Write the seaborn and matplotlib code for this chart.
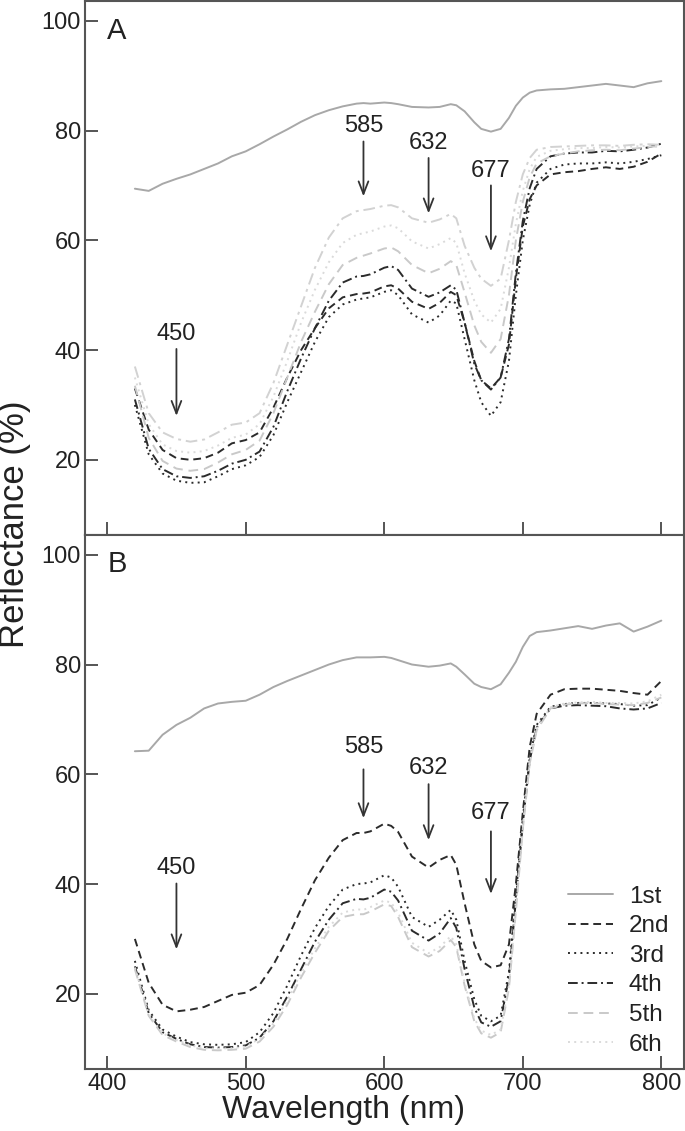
import numpy as np
import pandas as pd
import matplotlib
matplotlib.use("Agg")
import matplotlib.pyplot as plt
import seaborn as sns
from matplotlib.lines import Line2D

# ---------------- data ----------------
wavelength = [420, 430, 440, 450, 460, 470, 480, 490, 500, 510, 520, 530, 540, 550, 560,
              570, 580, 585, 590, 600, 605, 610, 620, 632, 640, 648, 652, 658, 665, 670,
              677, 684, 690, 695, 700, 705, 710, 720, 730, 740, 750, 760, 770, 780, 790, 800]

series_names = ["1st", "2nd", "3rd", "4th", "5th", "6th"]

# Panel A
a_1st = [69.4, 69.0, 70.3, 71.2, 72.0, 73.0, 74.0, 75.3, 76.2, 77.5, 78.9, 80.2, 81.6, 82.8, 83.7,
         84.4, 84.9, 85.0, 84.9, 85.1, 85.0, 84.8, 84.3, 84.2, 84.3, 84.8, 84.6, 83.5, 81.5, 80.3,
         79.8, 80.3, 82.3, 84.5, 86.0, 86.9, 87.3, 87.5, 87.6, 87.9, 88.2, 88.5, 88.2, 87.9, 88.6, 89.0]
a_2nd = [33.0, 25.5, 21.8, 20.3, 20.0, 20.3, 21.3, 23.0, 23.6, 25.0, 29.5, 35.0, 40.0, 44.0, 47.6,
         49.6, 50.2, 50.3, 50.5, 51.6, 51.8, 51.2, 48.8, 47.5, 48.6, 50.6, 50.0, 45.0, 38.0, 34.5,
         33.0, 35.0, 41.0, 53.0, 62.5, 67.5, 70.0, 72.0, 72.4, 72.6, 73.0, 73.3, 73.0, 73.4, 74.3, 75.8]
a_3rd = [30.0, 21.0, 17.5, 16.2, 15.8, 15.9, 17.0, 18.3, 19.0, 20.5, 24.5, 30.5, 36.0, 41.5, 46.0,
         48.3, 49.2, 49.4, 49.6, 50.6, 50.9, 50.0, 46.5, 45.0, 46.3, 49.0, 48.5, 42.0, 34.5, 30.5,
         28.0, 30.5, 38.0, 50.0, 60.0, 66.5, 70.5, 73.0, 73.8, 74.0, 74.0, 74.2, 74.0, 74.3, 74.8, 75.5]
a_4th = [31.0, 22.0, 18.3, 17.0, 16.7, 17.0, 18.0, 19.3, 20.0, 21.5, 26.0, 32.5, 38.5, 44.0, 49.0,
         52.3, 53.4, 53.5, 53.8, 55.0, 55.3, 54.6, 51.2, 49.7, 50.5, 51.8, 51.0, 45.0, 37.5, 34.5,
         32.8, 35.0, 42.0, 54.0, 63.5, 69.5, 73.0, 75.3, 75.8, 76.0, 76.0, 76.3, 76.2, 76.5, 76.9, 77.6]
a_5th = [33.5, 24.0, 19.8, 18.4, 18.0, 18.3, 19.5, 21.0, 21.8, 23.5, 28.5, 35.0, 41.5, 47.0, 52.0,
         55.5, 56.8, 57.2, 57.6, 58.5, 58.7, 58.0, 55.5, 54.0, 54.8, 56.2, 55.5, 50.5, 44.5, 41.5,
         39.5, 42.0, 50.0, 60.0, 67.0, 71.5, 74.0, 75.3, 75.8, 76.2, 76.4, 76.5, 76.4, 76.7, 77.0, 77.2]
a_6th = [35.0, 26.5, 22.8, 21.6, 21.3, 21.6, 22.6, 24.0, 24.6, 26.5, 31.5, 38.0, 45.0, 51.0, 56.0,
         59.5, 61.0, 61.3, 61.6, 62.5, 62.7, 62.2, 59.8, 58.5, 59.3, 60.4, 59.5, 54.0, 49.0, 46.5,
         45.0, 47.5, 55.0, 63.0, 69.0, 73.0, 75.2, 76.3, 76.6, 76.8, 76.8, 77.0, 76.9, 77.1, 77.2, 77.0]
a_extra = [37.0, 28.5, 25.0, 23.8, 23.3, 23.7, 25.0, 26.4, 26.8, 28.5, 34.0, 41.0, 48.0, 55.0, 60.5,
           64.0, 65.3, 65.5, 65.7, 66.3, 66.4, 66.0, 64.0, 63.2, 63.8, 64.8, 64.0, 59.0, 55.0, 53.0,
           51.7, 53.0, 60.0, 67.0, 72.0, 75.0, 76.5, 77.0, 77.1, 77.2, 77.3, 77.3, 77.2, 77.4, 77.5, 77.4]

# Panel B
b_1st = [64.2, 64.3, 67.2, 69.0, 70.3, 72.0, 72.9, 73.2, 73.4, 74.5, 75.9, 77.0, 78.0, 79.0, 80.0,
         80.8, 81.3, 81.3, 81.3, 81.4, 81.2, 80.8, 80.0, 79.6, 79.8, 80.2, 79.6, 78.2, 76.5, 75.9,
         75.5, 76.4, 78.5, 80.5, 83.2, 85.2, 85.9, 86.2, 86.6, 87.0, 86.5, 87.1, 87.5, 86.0, 86.9, 88.0]
b_2nd = [30.0, 22.0, 18.0, 16.8, 17.1, 17.6, 18.7, 19.8, 20.2, 21.6, 25.3, 30.0, 35.5, 40.7, 44.8,
         48.0, 49.3, 49.3, 49.6, 51.0, 50.6, 49.5, 45.0, 43.0, 44.4, 45.3, 43.5, 36.5, 29.0, 26.0,
         24.8, 25.2, 29.0, 40.0, 53.0, 65.0, 71.0, 74.5, 75.5, 75.6, 75.6, 75.4, 75.2, 74.8, 74.5, 77.0]
b_3rd = [26.0, 17.0, 13.5, 12.2, 11.2, 10.8, 10.7, 10.8, 11.2, 13.0, 16.5, 21.5, 27.0, 32.0, 36.0,
         39.0, 40.0, 40.1, 40.3, 41.6, 41.2, 39.5, 34.0, 32.2, 33.5, 35.3, 33.5, 26.0, 19.0, 16.0,
         15.0, 16.0, 24.0, 38.0, 52.0, 63.0, 69.0, 72.3, 72.8, 73.0, 73.0, 72.9, 72.8, 72.5, 72.6, 74.0]
b_4th = [25.0, 16.5, 13.0, 11.8, 10.8, 10.3, 10.2, 10.3, 10.6, 12.0, 15.0, 19.5, 24.5, 29.5, 33.5,
         36.5, 37.3, 37.2, 37.5, 39.0, 38.6, 37.0, 31.5, 29.7, 31.0, 33.8, 32.0, 24.5, 17.5, 14.8,
         14.0, 15.0, 23.0, 37.0, 51.0, 62.5, 68.5, 72.0, 72.5, 72.6, 72.5, 72.4, 72.0, 71.8, 72.0, 73.0]
b_5th = [24.5, 16.0, 12.5, 11.3, 10.3, 9.8, 9.7, 9.8, 10.0, 11.3, 14.0, 18.0, 23.0, 27.5, 31.5,
         34.0, 34.5, 34.5, 35.0, 36.3, 36.0, 34.0, 28.5, 26.8, 27.8, 29.8, 28.5, 21.5, 15.0, 12.8,
         12.0, 13.0, 21.0, 35.0, 50.0, 62.0, 68.0, 72.0, 72.7, 72.9, 73.0, 72.8, 72.7, 72.6, 73.0, 74.0]
b_6th = [24.8, 16.3, 12.8, 11.6, 10.6, 10.1, 10.0, 10.1, 10.4, 11.8, 14.6, 18.8, 23.8, 28.3, 32.2,
         34.8, 35.4, 35.3, 35.8, 37.0, 36.6, 34.8, 29.3, 27.4, 28.5, 30.5, 29.0, 22.0, 15.5, 13.3,
         12.5, 13.5, 21.5, 35.5, 50.5, 62.3, 68.3, 72.2, 72.9, 73.1, 73.2, 73.0, 73.0, 72.9, 73.3, 74.5]

peaks = [450, 585, 632, 677]

# ---------------- styling ----------------
sns.set_style("ticks")
plt.rcParams["font.family"] = ["Liberation Sans", "DejaVu Sans"]

palette = {"1st": "#a8a8a8", "2nd": "#2b2b2b", "3rd": "#2b2b2b", "4th": "#2b2b2b",
           "5th": "#c9c9c9", "6th": "#dadada", "extra": "#d2d2d2"}
dashes = {"1st": "", "2nd": (4, 2.5), "3rd": (1, 2.2), "4th": (5, 2, 1, 2),
          "5th": (5, 3), "6th": (1, 2.2), "extra": (6, 2.5, 1.5, 2.5)}

def long_frame(curves):
    rows = []
    for name, vals in curves.items():
        for w, v in zip(wavelength, vals):
            rows.append((w, v, name))
    return pd.DataFrame(rows, columns=["wl", "refl", "series"])

dfA = long_frame({"1st": a_1st, "2nd": a_2nd, "3rd": a_3rd, "4th": a_4th,
                  "5th": a_5th, "6th": a_6th, "extra": a_extra})
dfB = long_frame({"1st": b_1st, "2nd": b_2nd, "3rd": b_3rd, "4th": b_4th,
                  "5th": b_5th, "6th": b_6th})

fig = plt.figure(figsize=(6.85, 11.31), dpi=100)
axA = fig.add_axes([85 / 685, 1 - 535 / 1131, 598.5 / 685, 534 / 1131])
axB = fig.add_axes([85 / 685, 1 - 1069 / 1131, 598.5 / 685, 534 / 1131])

txt_c = "#222222"
spine_c = "#555555"
for ax, df in [(axA, dfA), (axB, dfB)]:
    sns.lineplot(data=df, x="wl", y="refl", hue="series", style="series",
                 palette=palette, dashes=dashes, linewidth=1.4, legend=False, ax=ax,
                 sort=False, estimator=None)
    ax.set_xlim(384, 816)
    ax.set_ylim(6.3, 103.6)
    ax.set_xticks([400, 500, 600, 700, 800])
    ax.set_yticks([20, 40, 60, 80, 100])
    ax.tick_params(direction="in", length=9.5, width=1.4, color=spine_c,
                   labelsize=17, labelcolor=txt_c, top=False, right=False, pad=3)
    for s in ax.spines.values():
        s.set_color(spine_c)
        s.set_linewidth(1.5)
    ax.set_xlabel("")
    ax.set_ylabel("")

axA.tick_params(labelbottom=False)
fig.text(343 / 685, 1 - 1110 / 1131, "Wavelength (nm)", ha="center", va="center",
         fontsize=23, color=txt_c)
fig.text(15 / 685, 1 - 524 / 1131, "Reflectance (%)", rotation=90, ha="center", va="center",
         fontsize=25, color=txt_c)

axA.text(400, 98.2, "A", fontsize=21, ha="left", va="center", color=txt_c)
axB.text(400, 98.4, "B", fontsize=21, ha="left", va="center", color=txt_c)

# annotations: (text y, arrow tail y, arrow head y)
annA = [(43.0, 40.2, 28.0), (80.8, 78.0, 68.0), (77.7, 75.0, 64.9), (72.7, 70.0, 58.0)]
annB = [(42.9, 40.1, 28.1), (64.9, 60.9, 52.0), (61.2, 58.2, 48.0), (52.9, 49.6, 38.2)]
for ax, ann in [(axA, annA), (axB, annB)]:
    for p, (ty, y0, y1) in zip(peaks, ann):
        ax.text(p, ty, str(p), ha="center", va="center", fontsize=17, color=txt_c)
        ax.annotate("", xy=(p, y1), xytext=(p, y0),
                    arrowprops=dict(arrowstyle="->,head_length=0.9,head_width=0.35",
                                    color="#333333", lw=1.3, shrinkA=0, shrinkB=0))

handles = [Line2D([0], [0], color=palette["1st"], lw=1.4, linestyle="-")]
for n in series_names[1:]:
    handles.append(Line2D([0], [0], color=palette[n], lw=1.4, dashes=dashes[n]))
leg = axB.legend(handles, series_names, loc="upper left", bbox_to_anchor=(0.807, 0.343),
                 frameon=False, fontsize=17.5, handlelength=1.85, handletextpad=0.66,
                 labelspacing=0.31, borderpad=0, borderaxespad=0)
for t in leg.get_texts():
    t.set_color(txt_c)

fig.savefig("out.png", dpi=100)
